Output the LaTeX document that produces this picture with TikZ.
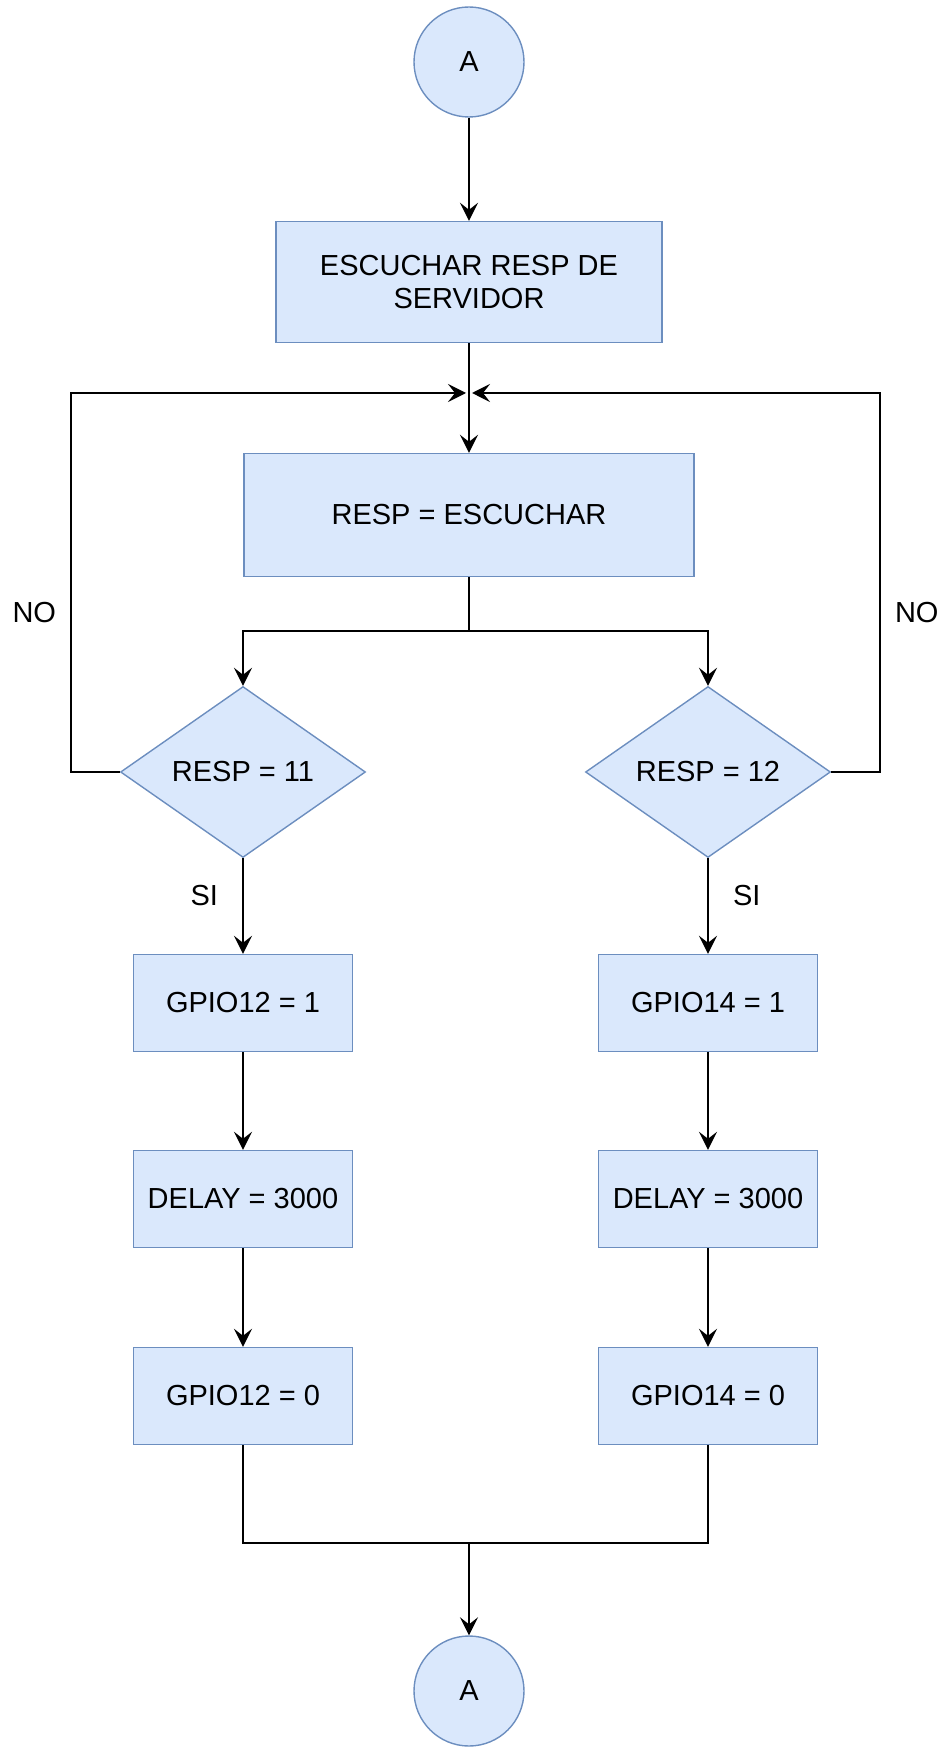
\documentclass[tikz,border=0pt]{standalone}
\usepackage{fontspec}
\setmainfont{Liberation Sans}
\usepackage{tikz}
\usetikzlibrary{calc, positioning}
\usetikzlibrary{arrows.meta}
\usepgflibrary{shapes.geometric}
\definecolor{boxfill}{HTML}{DAE8FC}
\definecolor{boxline}{HTML}{6C8EBF}
\def\bw{109.5pt}
\def\bh{48.5pt}
\tikzset{
    block/.style = {
        draw=boxline, fill=boxfill, rectangle, minimum width=\bw, minimum height=\bh, line width=0.7pt, align=center, inner sep=0pt
    },
    decision/.style = {
        draw=boxline, fill=boxfill, diamond, minimum width=122.5pt, minimum height=85.5pt, line width=0.7pt, inner sep=0pt
    },
    connector/.style = {
        draw=boxline, fill=boxfill, circle, minimum size=55pt, line width=0.7pt, inner sep=0pt
    },
}

\begin{document}
\begin{tikzpicture}[x=0.5pt, y=-0.5pt, font=\fontsize{14.5}{16.5}\selectfont]
        \useasboundingbox (0,0) rectangle (943,1748);

        % Place the blocks
        \node[connector] (top) at (469,62) {A};
        \node[block, minimum width=193pt, minimum height=60.5pt] (listen) at (469,282) {ESCUCHAR RESP DE\\SERVIDOR};
        \node[block, minimum width=225pt, minimum height=61.5pt] (resp) at (469,515) {RESP = ESCUCHAR};
        \node[decision] (chk11) at (243,772) {RESP = 11};
        \node[decision] (chk12) at (708,772) {RESP = 12};
        \node[block] (gpio12on) at (243,1003) {GPIO12 = 1};
        \node[block] (wait12) at (243,1199) {DELAY = 3000};
        \node[block] (gpio12off) at (243,1396) {GPIO12 = 0};
        \node[block] (gpio14on) at (708,1003) {GPIO14 = 1};
        \node[block] (wait14) at (708,1199) {DELAY = 3000};
        \node[block] (gpio14off) at (708,1396) {GPIO14 = 0};
        \node[connector] (bottom) at (469,1691) {A};

        % Bends of the lines
        \coordinate (merge) at (469,393);
        \coordinate (split) at (469,631);
        \coordinate (join) at (469,1543);
        \coordinate (loopL) at (71,393);
        \coordinate (loopR) at (880,393);

        % Draw connections
        \begin{scope}[line width=1pt, >={Stealth[length=9pt,width=9pt,inset=3.5pt]}]
            \draw[->] (top) -- (listen);
            \draw[->] (listen) -- (resp);
            \draw (resp) -- (split);
            \draw[->] (split) -| (chk11);
            \draw[->] (split) -| (chk12);
            \draw[->, shorten >=1.5pt] (chk11.west) -| (loopL) node[pos=0.71, left=7pt, inner sep=0pt] {NO} -- (merge);
            \draw[->, shorten >=1.5pt] (chk12.east) -| (loopR) node[pos=0.71, right=7pt, inner sep=0pt] {NO} -- (merge);
            \draw[->] (chk11) -- (gpio12on) node[pos=0.39, left=12pt, inner sep=0pt] {SI};
            \draw[->] (chk12) -- (gpio14on) node[pos=0.39, right=12pt, inner sep=0pt] {SI};
            \draw[->] (gpio12on) -- (wait12);
            \draw[->] (wait12) -- (gpio12off);
            \draw[->] (gpio14on) -- (wait14);
            \draw[->] (wait14) -- (gpio14off);
            \draw (gpio12off) |- (join) -| (gpio14off);
            \draw[->] (join) -- (bottom);
        \end{scope}
    \end{tikzpicture}
\end{document}
